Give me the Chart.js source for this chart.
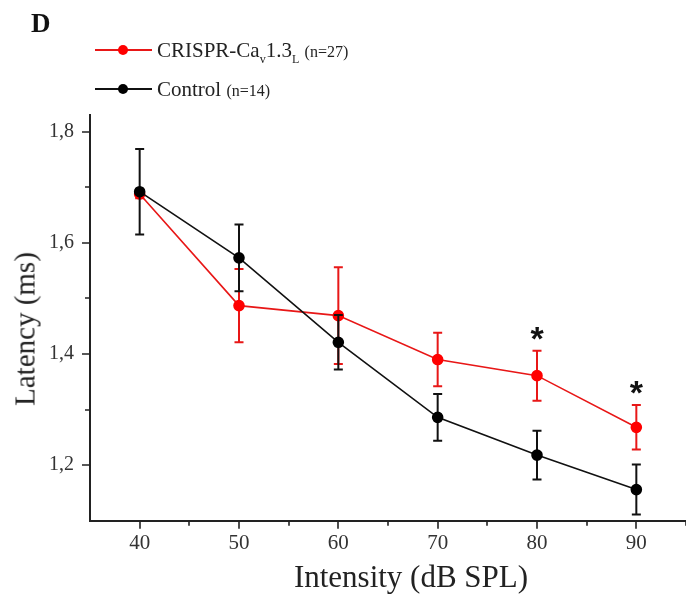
<!DOCTYPE html>
<html>
<head>
<meta charset="utf-8">
<script src="https://cdn.jsdelivr.net/npm/chart.js@4.4.1/dist/chart.umd.min.js"></script>
<style>
    body { margin: 0; background: #fff; }
    #wrap { position: relative; width: 686px; height: 599px; overflow: hidden; font-family: "Liberation Serif", serif; color: #222; }
    #wrap canvas { position: absolute; left: 0; top: 0; }
    .txt { position: absolute; white-space: nowrap; line-height: 1; }
    .panel { left: 31px; top: 10px; font-size: 27px; font-weight: bold; color: #111; }
    .leg { left: 95px; font-size: 21px; }
    .leg .mark { display: inline-block; position: relative; width: 57px; height: 2px; vertical-align: 6px; margin-right: 5px; }
    .leg .mark i { position: absolute; left: 23px; top: -4px; width: 10px; height: 10px; border-radius: 50%; }
    .leg sub { font-size: 12px; vertical-align: -6px; }
    .leg small { font-size: 16px; }
    .ytitle { left: 25px; top: 329px; font-size: 29px; transform: translate(-50%, -50%) rotate(-90deg); }
    .xtitle { left: 411px; top: 561px; font-size: 31px; transform: translateX(-50%); }
</style>
</head>
<body>
<div id="wrap">
    <canvas id="latencyChart" width="686" height="599"></canvas>
    <div class="txt panel">D</div>
    <div class="txt leg" style="top:40px"><span class="mark" style="background:#e81717"><i style="background:#ff0000"></i></span>CRISPR-Ca<sub>v</sub>1.3<sub>L</sub> <small>(n=27)</small></div>
    <div class="txt leg" style="top:79px"><span class="mark" style="background:#111"><i style="background:#000"></i></span>Control <small>(n=14)</small></div>
    <div class="txt ytitle">Latency (ms)</div>
    <div class="txt xtitle">Intensity (dB SPL)</div>
</div>
<script>
// values (mean +/- SEM, ms)
const intensity = [40, 50, 60, 70, 80, 90];
const crisprMean = [1.688, 1.487, 1.469, 1.390, 1.361, 1.268];
const crisprSem = [0.008, 0.066, 0.087, 0.048, 0.045, 0.040];
const controlMean = [1.692, 1.573, 1.421, 1.286, 1.218, 1.156];
const controlSem = [0.077, 0.060, 0.049, 0.042, 0.044, 0.045];
const starAt = [80, 90];

const xMajor = [40, 50, 60, 70, 80, 90];
const xMinor = [45, 55, 65, 75, 85, 95];
const yMajor = [1.2, 1.4, 1.6, 1.8];
const yMinor = [1.3, 1.5, 1.7];

const serif = '"Liberation Serif", serif';

function toPoints(means) {
    return intensity.map((x, i) => ({ x: x, y: means[i] }));
}

// error bars drawn just before each dataset, so later series sit on top
const errorBars = {
    id: 'errorBars',
    beforeDatasetDraw(chart, args) {
        const ds = chart.data.datasets[args.index];
        if (!ds.sem) return;
        const ctx = chart.ctx;
        const xs = chart.scales.x, ys = chart.scales.y;
        ctx.save();
        ctx.strokeStyle = ds.errColor;
        ctx.lineWidth = 2;
        ds.data.forEach((p, i) => {
            const px = xs.getPixelForValue(p.x);
            const top = ys.getPixelForValue(p.y + ds.sem[i]);
            const bot = ys.getPixelForValue(p.y - ds.sem[i]);
            ctx.beginPath();
            ctx.moveTo(px, top); ctx.lineTo(px, bot);
            ctx.moveTo(px - 4.5, top); ctx.lineTo(px + 4.5, top);
            ctx.moveTo(px - 4.5, bot); ctx.lineTo(px + 4.5, bot);
            ctx.stroke();
        });
        ctx.restore();
    }
};

// outward tick marks, long for major and short for minor
const axisTicks = {
    id: 'axisTicks',
    afterDraw(chart) {
        const ctx = chart.ctx;
        const xs = chart.scales.x, ys = chart.scales.y;
        const area = chart.chartArea;
        ctx.save();
        ctx.strokeStyle = '#222';
        ctx.lineWidth = 1.6;
        ctx.beginPath();
        xMajor.concat(xMinor).forEach(v => {
            const px = Math.round(xs.getPixelForValue(v));
            const len = xMajor.includes(v) ? 8 : 5;
            ctx.moveTo(px, area.bottom); ctx.lineTo(px, area.bottom + len);
        });
        yMajor.concat(yMinor).forEach(v => {
            const py = Math.round(ys.getPixelForValue(v));
            const len = yMajor.includes(v) ? 8 : 5;
            ctx.moveTo(area.left, py); ctx.lineTo(area.left - len, py);
        });
        ctx.stroke();

        // significance stars above the CRISPR error bars
        ctx.fillStyle = '#111';
        ctx.font = 'bold 34px "Liberation Sans", sans-serif';
        ctx.textAlign = 'center';
        ctx.textBaseline = 'alphabetic';
        starAt.forEach(v => {
            const i = intensity.indexOf(v);
            const px = xs.getPixelForValue(v);
            const py = ys.getPixelForValue(crisprMean[i] + crisprSem[i]) - 20;
            ctx.fillText('*', px, py + 19);
        });
        ctx.restore();
    }
};

const ctx = document.getElementById('latencyChart').getContext('2d');
new Chart(ctx, {
    type: 'line',
    data: {
        datasets: [{
            label: 'CRISPR-Cav1.3L (n=27)',
            data: toPoints(crisprMean),
            sem: crisprSem,
            errColor: '#e81717',
            borderColor: '#e81717',
            borderWidth: 1.6,
            pointBackgroundColor: '#ff0000',
            pointBorderColor: '#ff0000',
            pointRadius: 5,
            tension: 0,
            order: 2
        }, {
            label: 'Control (n=14)',
            data: toPoints(controlMean),
            sem: controlSem,
            errColor: '#111',
            borderColor: '#111',
            borderWidth: 1.6,
            pointBackgroundColor: '#000',
            pointBorderColor: '#000',
            pointRadius: 5,
            tension: 0,
            order: 1
        }]
    },
    options: {
        responsive: false,
        animation: false,
        devicePixelRatio: 1,
        events: [],
        layout: { autoPadding: false, padding: { top: 115, right: 0, left: 0, bottom: 0 } },
        plugins: {
            legend: { display: false },
            tooltip: { enabled: false }
        },
        scales: {
            x: {
                type: 'linear',
                min: 35,
                max: 95,
                afterBuildTicks: (scale) => { scale.ticks = xMajor.map(v => ({ value: v })); },
                afterFit: (scale) => {
                    scale.height = 78.3;
                    scale.paddingLeft = 0;
                    scale.paddingRight = 0;
                },
                grid: { drawOnChartArea: false, drawTicks: false },
                border: { color: '#222', width: 2 },
                ticks: {
                    padding: 10,
                    color: '#333',
                    font: { family: serif, size: 21 },
                    maxRotation: 0,
                    callback: (v) => String(v)
                }
            },
            y: {
                type: 'linear',
                min: 1.1,
                max: 1.83,
                afterBuildTicks: (scale) => { scale.ticks = yMajor.map(v => ({ value: v })); },
                afterFit: (scale) => { scale.width = 90; },
                grid: { drawOnChartArea: false, drawTicks: false },
                border: { color: '#222', width: 2 },
                ticks: {
                    padding: 16,
                    color: '#333',
                    font: { family: serif, size: 20 },
                    callback: (v) => v.toFixed(1).replace('.', ',')
                }
            }
        }
    },
    plugins: [errorBars, axisTicks]
});
</script>
</body>
</html>
